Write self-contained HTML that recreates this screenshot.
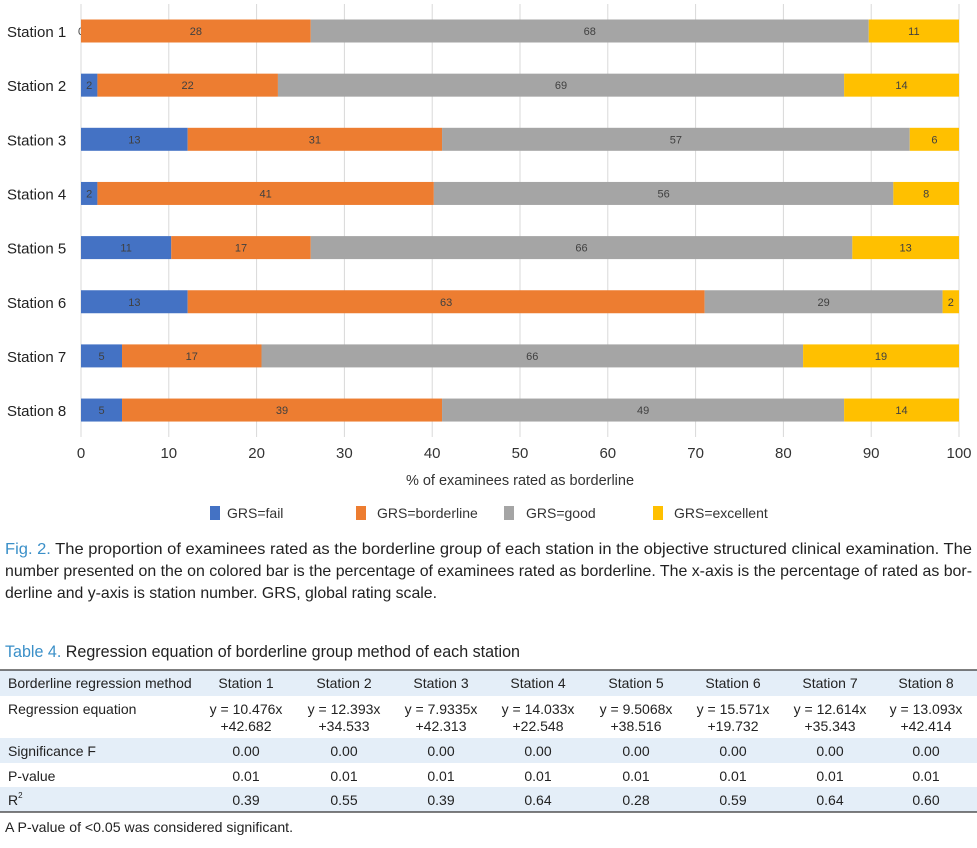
<!DOCTYPE html>
<html><head><meta charset="utf-8"><style>
body{margin:0;background:#fff;width:977px;height:848px;overflow:hidden}
svg{display:block;font-family:"Liberation Sans",sans-serif}
</style></head><body>
<svg id="c" width="977" height="848">
<g id="grid"></g>
<g id="bars"></g>
<g id="axis"></g>
<text x="520" y="485" font-size="14.5" text-anchor="middle" fill="#333">% of examinees rated as borderline</text>
<g>
<rect x="210" y="506" width="10" height="14" fill="#4472c4"/>
<text x="227" y="518" font-size="14" fill="#333">GRS=fail</text>
<rect x="356" y="506" width="10" height="14" fill="#ed7d31"/>
<text x="377" y="518" font-size="14" fill="#333">GRS=borderline</text>
<rect x="504" y="506" width="10" height="14" fill="#a5a5a5"/>
<text x="526" y="518" font-size="14" fill="#333">GRS=good</text>
<rect x="653" y="506" width="10" height="14" fill="#ffc000"/>
<text x="674" y="518" font-size="14" fill="#333">GRS=excellent</text>
</g>
<g font-size="16" fill="#222">
<text x="5" y="554" textLength="967" lengthAdjust="spacingAndGlyphs"><tspan fill="#3a8fc8">Fig. 2.</tspan> The proportion of examinees rated as the borderline group of each station in the objective structured clinical examination. The</text>
<text x="5" y="576" textLength="967" lengthAdjust="spacingAndGlyphs">number presented on the on colored bar is the percentage of examinees rated as borderline. The x-axis is the percentage of rated as bor-</text>
<text x="5" y="598" textLength="432" lengthAdjust="spacingAndGlyphs">derline and y-axis is station number. GRS, global rating scale.</text>
</g>
<text x="5" y="657" font-size="16.5" fill="#222" textLength="515" lengthAdjust="spacingAndGlyphs"><tspan fill="#3a8fc8">Table 4.</tspan> Regression equation of borderline group method of each station</text>
<g id="table"></g>
<text x="5" y="832" font-size="14" fill="#222" textLength="288" lengthAdjust="spacingAndGlyphs">A P-value of &lt;0.05 was considered significant.</text>
</svg>
<script>
const stations=["Station 1","Station 2","Station 3","Station 4","Station 5","Station 6","Station 7","Station 8"];
const fail=[0,2,13,2,11,13,5,5];
const borderline=[28,22,31,41,17,63,17,39];
const good=[68,69,57,56,66,29,66,49];
const excellent=[11,14,6,8,13,2,19,14];
const ticks=[0,10,20,30,40,50,60,70,80,90,100];
const NS="http://www.w3.org/2000/svg";
const x0=81,x1=959,yTop=31,yStep=54.15,bh=23;
const xs=v=>x0+(x1-x0)*v/100;
const ys=i=>yTop+i*yStep;
function mk(tag,attrs,parent,txt){const e=document.createElementNS(NS,tag);for(const k in attrs)e.setAttribute(k,attrs[k]);if(txt!==undefined)e.textContent=txt;parent.appendChild(e);return e;}
const grid=document.getElementById('grid'),bars=document.getElementById('bars'),axis=document.getElementById('axis');
ticks.forEach(t=>{
 const l=mk('line',{x1:xs(t),x2:xs(t),y1:4,y2:437,stroke:'#d9d9d9','stroke-width':1},grid);
 
 
 const tx=mk('text',{x:xs(t),y:458,'font-size':15,'text-anchor':'middle',fill:'#333'},axis,String(t));
 
 
});
const series=[[fail,'#4472c4','fail'],[borderline,'#ed7d31','borderline'],[good,'#a5a5a5','good'],[excellent,'#ffc000','excellent']];
stations.forEach((s,i)=>{
 const y=ys(i);
 const lab=mk('text',{x:7,y:y+6,'font-size':15,fill:'#222'},axis,s);
 
 
 const tot=series.reduce((a,sr)=>a+sr[0][i],0);
 let cum=0;
 series.forEach(sr=>{
  const v=sr[0][i];const a=xs(cum/tot*100),b=xs((cum+v)/tot*100);
  const r=mk('rect',{x:a,y:y-bh/2,width:Math.max(0,b-a),height:bh,fill:sr[1]},bars);
  
  
  const t=mk('text',{x:(a+b)/2,y:y+4,'font-size':11,'text-anchor':'middle',fill:'#404040'},bars,String(v));
  
  
  cum+=v;
 });
});
const tbl=document.getElementById('table');
const cx=[246,344,441,538,636,733,830,926];
const rows=[
 {y:670,h:26,bg:'#e4eef8',label:'Borderline regression method',vals:stations},
 {y:696,h:42,bg:'#fff',label:'Regression equation',vals:[["y = 10.476x","+42.682"],["y = 12.393x","+34.533"],["y = 7.9335x","+42.313"],["y = 14.033x","+22.548"],["y = 9.5068x","+38.516"],["y = 15.571x","+19.732"],["y = 12.614x","+35.343"],["y = 13.093x","+42.414"]]},
 {y:738,h:25,bg:'#e4eef8',label:'Significance F',vals:["0.00","0.00","0.00","0.00","0.00","0.00","0.00","0.00"]},
 {y:763,h:24,bg:'#fff',label:'P-value',vals:["0.01","0.01","0.01","0.01","0.01","0.01","0.01","0.01"]},
 {y:787,h:25,bg:'#e4eef8',label:'R2',vals:["0.39","0.55","0.39","0.64","0.28","0.59","0.64","0.60"]}
];
rows.forEach((r,ri)=>{
 const g=mk('g',{},tbl);
 
 
 mk('rect',{x:0,y:r.y,width:977,height:r.h,fill:r.bg},g);
 const ty=r.y+18;
 if(r.label==='R2'){const t=mk('text',{x:8,y:ty,'font-size':14,fill:'#222'},g,'R');mk('tspan',{'font-size':8,dy:-7},t,'2');}
 else mk('text',{x:8,y:ty,'font-size':14,fill:'#222'},g,r.label);
 r.vals.forEach((v,ci)=>{
  if(Array.isArray(v)){mk('text',{x:cx[ci],y:ty,'font-size':14,'text-anchor':'middle',fill:'#222'},g,v[0]);mk('text',{x:cx[ci],y:ty+17,'font-size':14,'text-anchor':'middle',fill:'#222'},g,v[1]);}
  else mk('text',{x:cx[ci],y:ty,'font-size':14,'text-anchor':'middle',fill:'#222'},g,v);
 });
});
mk('line',{x1:0,x2:977,y1:670,y2:670,stroke:'#333','stroke-width':1.2},tbl);
mk('line',{x1:0,x2:977,y1:812,y2:812,stroke:'#333','stroke-width':1.2},tbl);
</script>
</body></html>
